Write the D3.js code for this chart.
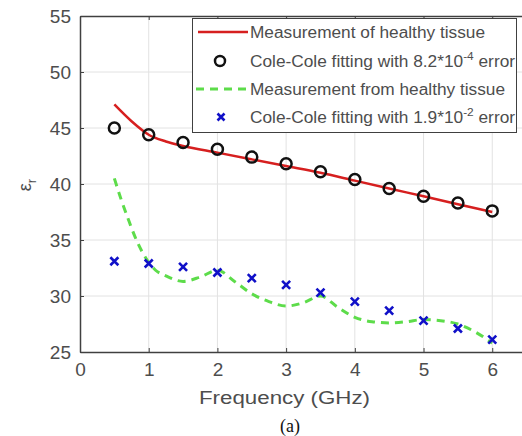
<!DOCTYPE html>
<html><head><meta charset="utf-8">
<script src="https://cdn.jsdelivr.net/npm/d3@7"></script>
<style>html,body{margin:0;padding:0;background:#fff;}svg{display:block;}</style>
</head><body>
<script>
// ---- data ----
const fitFreq = [0.5,1,1.5,2,2.5,3,3.5,4,4.5,5,5.5,6];
const circleVals = [45.0,44.4,43.7,43.1,42.4,41.8,41.1,40.4,39.6,38.9,38.3,37.6];
const crossVals = [33.1,32.9,32.6,32.1,31.6,31.0,30.3,29.5,28.7,27.8,27.1,26.1];
const redFreq = [0.5,0.75,1,1.25,1.5,2,2.5,3,3.5,4,4.5,5,5.5,6];
const redVals = [47.1,45.6,44.4,43.8,43.4,42.8,42.2,41.6,41.0,40.3,39.6,38.9,38.2,37.5];
const greenFreq = [0.5,0.6,0.7,0.8,0.9,1.0,1.1,1.25,1.5,1.75,2.0,2.25,2.5,2.75,3.0,3.25,3.5,3.75,4.0,4.25,4.5,4.75,5.0,5.25,5.5,5.75,6.0];
const greenVals = [40.5,38.6,36.9,35.3,34.0,33.0,32.3,31.8,31.3,31.7,32.3,31.3,30.2,29.5,29.1,29.4,30.0,29.0,28.1,27.7,27.6,27.7,27.9,27.8,27.5,26.8,25.8];
const xTicks = [0,1,2,3,4,5,6];
const yTicks = [25,30,35,40,45,50,55];
const legendLabels = ["Measurement of healthy tissue","Cole-Cole fitting with 8.2*10|-4| error","Measurement from healthy tissue","Cole-Cole fitting with 1.9*10|-2| error"];

const W=522,H=436;
const svg=d3.select("body").append("svg").attr("width",W).attr("height",H);
const x=d3.scaleLinear().domain([0,6.5]).range([80,526.6]);
const y=d3.scaleLinear().domain([25,55]).range([352,16]);
const txt="#4d4d4d", axc="#404040", grid="#e2e2e2";

// grid
svg.append("g").selectAll("line.v").data(xTicks.filter(d=>d>0)).join("line")
  .attr("x1",d=>x(d)).attr("x2",d=>x(d)).attr("y1",y(25)).attr("y2",y(55))
  .attr("stroke",grid).attr("stroke-width",1);
svg.append("g").selectAll("line.h").data(yTicks.filter(d=>d>25&&d<55)).join("line")
  .attr("x1",x(0)).attr("x2",W).attr("y1",d=>y(d)).attr("y2",d=>y(d))
  .attr("stroke",grid).attr("stroke-width",1);

// axes
const xAxis=svg.append("g").attr("transform",`translate(0,${y(25)})`)
  .call(d3.axisBottom(x).tickValues(xTicks).tickFormat(d3.format("d")).tickSizeInner(-4).tickSizeOuter(0).tickPadding(11));
const yAxis=svg.append("g").attr("transform",`translate(${x(0)},0)`)
  .call(d3.axisLeft(y).tickValues(yTicks).tickFormat(d3.format("d")).tickSizeInner(-4).tickSizeOuter(0).tickPadding(9));
const xTop=svg.append("g").attr("transform",`translate(0,${y(55)})`)
  .call(d3.axisTop(x).tickValues(xTicks).tickSizeInner(-4).tickSizeOuter(0).tickFormat(""));
[xAxis,yAxis,xTop].forEach(g=>{
  g.select(".domain").attr("stroke",axc).attr("stroke-width",1.5);
  g.selectAll(".tick line").attr("stroke",axc).attr("stroke-width",1);
  g.selectAll("text").attr("fill",txt).attr("font-family","Liberation Sans, Arial, sans-serif").attr("font-size",19);
});
yAxis.selectAll("text").attr("dy","0.36em");

// red line
svg.append("path").datum(redFreq.map((f,i)=>[f,redVals[i]]))
  .attr("d",d3.line().x(d=>x(d[0])).y(d=>y(d[1])).curve(d3.curveMonotoneX))
  .attr("fill","none").attr("stroke","#d61f1f").attr("stroke-width",2.5);
// green dashed
svg.append("path").datum(greenFreq.map((f,i)=>[f,greenVals[i]]))
  .attr("d",d3.line().x(d=>x(d[0])).y(d=>y(d[1])).curve(d3.curveMonotoneX))
  .attr("fill","none").attr("stroke","#5ddc4a").attr("stroke-width",3).attr("stroke-dasharray","8,6");
// circles
svg.append("g").selectAll("circle").data(fitFreq).join("circle")
  .attr("cx",d=>x(d)).attr("cy",(d,i)=>y(circleVals[i])).attr("r",5.5)
  .attr("fill","none").attr("stroke","#111").attr("stroke-width",2.5);
// crosses
const cross=(g,cx,cy,s)=>g.append("path").attr("d",`M${cx-s},${cy-s}L${cx+s},${cy+s}M${cx-s},${cy+s}L${cx+s},${cy-s}`)
  .attr("stroke","#1010c8").attr("stroke-width",2.6).attr("fill","none");
const cg=svg.append("g");
fitFreq.forEach((f,i)=>cross(cg,x(f),y(crossVals[i]),4));

// legend
const lg=svg.append("g");
lg.append("rect").attr("x",192.5).attr("y",18.5).attr("width",324).attr("height",114)
  .attr("fill","#fff").attr("stroke","#404040").attr("stroke-width",1);
const rows=[32,61,89,117];
lg.append("line").attr("x1",198).attr("x2",248).attr("y1",rows[0]).attr("y2",rows[0]).attr("stroke","#d61f1f").attr("stroke-width",2.5);
lg.append("circle").attr("cx",220).attr("cy",rows[1]).attr("r",5).attr("fill","none").attr("stroke","#111").attr("stroke-width",2.5);
lg.append("line").attr("x1",196).attr("x2",250).attr("y1",rows[2]).attr("y2",rows[2]).attr("stroke","#5ddc4a").attr("stroke-width",3).attr("stroke-dasharray","8,6");
cross(lg,221,rows[3],3.5);
const lens=[235,265,255,265];
legendLabels.forEach((s,i)=>{
  const parts=s.split("|");
  const t=lg.append("text").attr("x",250).attr("y",rows[i]+6).attr("fill",txt)
    .attr("font-family","Liberation Sans, Arial, sans-serif").attr("font-size",16)
    .attr("textLength",lens[i]).attr("lengthAdjust","spacingAndGlyphs");
  t.append("tspan").text(parts[0]);
  if(parts.length>1){
    t.append("tspan").attr("dy",-7).attr("font-size",11).text(parts[1]);
    t.append("tspan").attr("dy",7).text(parts[2]);
  }
});

// axis labels
svg.append("text").attr("x",284.5).attr("y",404).attr("text-anchor","middle").attr("fill",txt)
  .attr("font-family","Liberation Sans, Arial, sans-serif").attr("font-size",18)
  .attr("textLength",171).attr("lengthAdjust","spacingAndGlyphs").text("Frequency (GHz)");
const yl=svg.append("text").attr("transform","translate(31,185) rotate(-90)").attr("text-anchor","middle")
  .attr("fill",txt).attr("font-family","Liberation Sans, Arial, sans-serif").attr("font-size",18);
yl.append("tspan").text("ε");
yl.append("tspan").attr("dy",5).attr("font-size",13).text("r");
svg.append("text").attr("x",290).attr("y",432).attr("text-anchor","middle").attr("fill","#111")
  .attr("font-family","Liberation Serif, Times New Roman, serif").attr("font-size",18).text("(a)");
</script>
</body></html>
